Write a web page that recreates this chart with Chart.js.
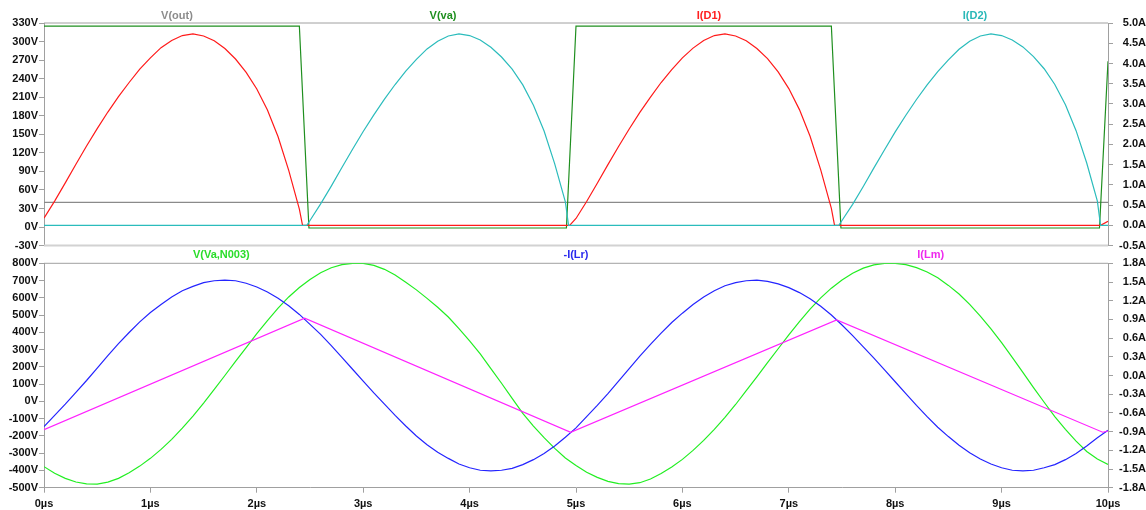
<!DOCTYPE html>
<html>
<head>
<meta charset="utf-8">
<script src="https://cdn.jsdelivr.net/npm/chart.js@4.4.1/dist/chart.umd.min.js"></script>
<style>
  html, body { margin: 0; padding: 0; background: #fff; width: 1146px; height: 510px; overflow: hidden; }
  canvas { position: absolute; left: 0; }
  #topPane { top: 0; }
  #bottomPane { top: 248px; }
</style>
</head>
<body>
<canvas id="topPane" width="1146" height="256"></canvas>
<canvas id="bottomPane" width="1146" height="262"></canvas>
<script>
// ---- transient simulation data, time in microseconds ----
const timeUs = [0,0.1,0.2,0.3,0.4,0.5,0.6,0.7,0.8,0.9,1,1.1,1.2,1.3,1.4,1.5,1.6,1.7,1.8,1.9,2,2.1,2.2,2.3,2.4,2.5,2.6,2.7,2.8,2.9,3,3.1,3.2,3.3,3.4,3.5,3.6,3.7,3.8,3.9,4,4.1,4.2,4.3,4.4,4.5,4.6,4.7,4.8,4.9,5,5.1,5.2,5.3,5.4,5.5,5.6,5.7,5.8,5.9,6,6.1,6.2,6.3,6.4,6.5,6.6,6.7,6.8,6.9,7,7.1,7.2,7.3,7.4,7.5,7.6,7.7,7.8,7.9,8,8.1,8.2,8.3,8.4,8.5,8.6,8.7,8.8,8.9,9,9.1,9.2,9.3,9.4,9.5,9.6,9.7,9.8,9.9,10];

// upper pane
const vOutTime = [0, 10];
const vOutVolts = [40, 40];

const vaTime = [0, 2.40, 2.49, 4.91, 5.0, 7.40, 7.49, 9.92, 10];
const vaVolts = [325, 325, -1.5, -1.5, 325, 325, -1.5, -1.5, 268];

const d1Time = [0,0.1,0.2,0.3,0.4,0.5,0.6,0.7,0.8,0.9,1,1.1,1.2,1.3,1.4,1.5,1.6,1.7,1.8,1.9,2,2.1,2.2,2.3,2.4,2.43,
                4.94,5,5.1,5.2,5.3,5.4,5.5,5.6,5.7,5.8,5.9,6,6.1,6.2,6.3,6.4,6.5,6.6,6.7,6.8,6.9,7,7.1,7.2,7.3,7.4,7.43,
                9.93,10];
const d1Amps = [0.18,0.60,1.05,1.51,1.96,2.39,2.80,3.18,3.53,3.86,4.14,4.39,4.57,4.69,4.73,4.68,4.56,4.37,4.11,3.78,3.37,2.85,2.19,1.36,0.40,0,
                0,0.17,0.59,1.04,1.50,1.95,2.38,2.79,3.17,3.53,3.85,4.14,4.38,4.57,4.69,4.73,4.68,4.56,4.37,4.12,3.79,3.38,2.86,2.20,1.37,0.42,0,
                0,0.10];

const d2Time = [0,2.47,2.5,2.6,2.7,2.8,2.9,3,3.1,3.2,3.3,3.4,3.5,3.6,3.7,3.8,3.9,4,4.1,4.2,4.3,4.4,4.5,4.6,4.7,4.8,4.9,4.93,
                7.47,7.5,7.6,7.7,7.8,7.9,8,8.1,8.2,8.3,8.4,8.5,8.6,8.7,8.8,8.9,9,9.1,9.2,9.3,9.4,9.5,9.6,9.7,9.8,9.9,9.93,10];
const d2Amps = [0,0,0.12,0.53,0.97,1.43,1.88,2.32,2.73,3.12,3.48,3.81,4.10,4.36,4.55,4.68,4.73,4.69,4.58,4.40,4.16,3.86,3.47,2.97,2.33,1.52,0.58,0,
                0,0.12,0.52,0.96,1.42,1.87,2.31,2.72,3.11,3.47,3.80,4.09,4.35,4.55,4.68,4.73,4.69,4.58,4.41,4.17,3.87,3.48,2.98,2.34,1.54,0.60,0,0];

// lower pane (on timeUs grid)
const vaN003Volts = [-378,-416,-446,-467,-478,-479,-468,-446,-413,-375,
                     -330,-278,-220,-155,-85,-10,70,150,232,312,
                     392,468,540,605,660,706,745,774,792,800,
                     800,788,765,732,690,646,597,545,489,422,
                     350,275,190,105,18,-69,-143,-210,-272,-328,
                     -372,
                     -410,-440,-463,-476,-479,-471,-450,-418,-380,
                     -336,-284,-226,-162,-92,-18,62,142,224,305,
                     385,462,535,600,656,703,742,772,791,799,
                     800,792,775,750,716,672,622,562,494,420,
                     340,255,168,80,-5,-88,-162,-230,-290,-334,
                     -365];
const lrNegAmps = [-0.82,-0.64,-0.46,-0.27,-0.08,0.12,0.32,0.51,0.69,0.86,
                   1.01,1.14,1.26,1.36,1.43,1.49,1.52,1.53,1.52,1.48,
                   1.42,1.34,1.24,1.12,0.98,0.82,0.66,0.48,0.29,0.10,
                   -0.09,-0.28,-0.46,-0.64,-0.81,-0.97,-1.11,-1.23,-1.33,-1.42,
                   -1.48,-1.52,-1.53,-1.52,-1.49,-1.43,-1.35,-1.25,-1.13,-0.99,
                   -0.84,
                   -0.66,-0.48,-0.29,-0.09,0.11,0.31,0.50,0.68,0.85,
                   1.00,1.14,1.26,1.36,1.44,1.49,1.52,1.53,1.51,1.47,
                   1.41,1.33,1.23,1.11,0.97,0.81,0.64,0.46,0.28,0.09,
                   -0.10,-0.29,-0.48,-0.66,-0.83,-0.98,-1.12,-1.24,-1.34,-1.42,
                   -1.48,-1.52,-1.53,-1.52,-1.48,-1.43,-1.35,-1.25,-1.13,-1.00,
                   -0.88];
const lmTime = [0, 2.45, 4.95, 7.45, 9.95, 10];
const lmAmps = [-0.87, 0.92, -0.91, 0.89, -0.91, -0.89];

// axis ticks
const topVoltTicks = [-30,0,30,60,90,120,150,180,210,240,270,300,330];
const topAmpTicks = [-0.5,0,0.5,1,1.5,2,2.5,3,3.5,4,4.5,5];
const bottomVoltTicks = [-500,-400,-300,-200,-100,0,100,200,300,400,500,600,700,800];
const bottomAmpTicks = [-1.8,-1.5,-1.2,-0.9,-0.6,-0.3,0,0.3,0.6,0.9,1.2,1.5,1.8];
const timeTicks = [0,1,2,3,4,5,6,7,8,9,10];

// trace names
const topNames = ['V(out)', 'V(va)', 'I(D1)', 'I(D2)'];
const topNameColors = ['#8c8c8c', '#1f8f1f', '#ff2020', '#2ab8b8'];
const bottomNames = ['V(Va,N003)', '-I(Lr)', 'I(Lm)'];
const bottomNameColors = ['#2add2a', '#2a2aee', '#ee2aee'];

// ---- drawing ----
const FONT = { family: '"Liberation Sans", Arial, sans-serif', size: 11, weight: 'bold' };
const AXIS_GRAY = '#a0a0a0';

const pts = (xs, ys) => xs.map((x, i) => ({ x: x, y: ys[i] }));

const paneFrame = {
  id: 'paneFrame',
  beforeDatasetsDraw(chart, args, opts) {
    const { ctx, chartArea: a } = chart;
    ctx.save();
    (opts.lines || []).forEach(l => {
      ctx.strokeStyle = l.color;
      ctx.lineWidth = l.width;
      const y = l.edge === 'top' ? a.top : a.bottom;
      ctx.beginPath();
      ctx.moveTo(a.left, y);
      ctx.lineTo(a.right, y);
      ctx.stroke();
    });
    ctx.restore();
  }
};

const traceNames = {
  id: 'traceNames',
  afterDraw(chart, args, opts) {
    const { ctx, chartArea: a } = chart;
    const n = opts.names.length;
    ctx.save();
    ctx.font = 'bold 11px "Liberation Sans", Arial, sans-serif';
    ctx.textAlign = 'center';
    ctx.textBaseline = 'middle';
    opts.names.forEach((name, i) => {
      ctx.fillStyle = opts.colors[i];
      ctx.fillText(name, a.left + a.width * (i + 0.5) / n, a.top - opts.gap);
    });
    ctx.restore();
  }
};

function yScale(pos, min, max, tickValues, fmt) {
  return {
    type: 'linear', position: pos, min: min, max: max,
    afterBuildTicks: s => { s.ticks = tickValues.map(v => ({ value: v })); },
    afterFit: s => { s.width = pos === 'left' ? 44 : 38; },
    grid: { drawOnChartArea: false, drawTicks: true, tickLength: 5, color: AXIS_GRAY },
    border: { display: true, color: AXIS_GRAY, width: 1 },
    ticks: { font: FONT, color: '#111', padding: 1, crossAlign: pos === 'right' ? 'far' : 'near', callback: fmt }
  };
}
const fmtV = v => v + 'V';
const fmtA = v => v.toFixed(1) + 'A';

function line(label, data, axis, color, order) {
  return { label, data, yAxisID: axis, borderColor: color, backgroundColor: color,
           borderWidth: 1.2, pointRadius: 0, tension: 0, fill: false, order };
}

const common = {
  responsive: false, animation: false, devicePixelRatio: 1,
  events: [],
  plugins: { legend: { display: false }, tooltip: { enabled: false } }
};

new Chart(document.getElementById('topPane'), {
  type: 'line',
  data: {
    datasets: [
      line('V(out)', pts(vOutTime, vOutVolts), 'yV', '#8a8a8a', 4),
      line('V(va)', pts(vaTime, vaVolts), 'yV', '#1f8f1f', 3),
      line('I(D1)', pts(d1Time, d1Amps), 'yA', '#ff1a1a', 2),
      line('I(D2)', pts(d2Time, d2Amps), 'yA', '#2bbcbc', 1)
    ]
  },
  options: Object.assign({}, common, {
    layout: { padding: { top: 23, bottom: 10.4, left: 0, right: 0 } },
    scales: {
      x: { type: 'linear', min: 0, max: 10, display: false },
      yV: yScale('left', -30, 330, topVoltTicks, fmtV),
      yA: yScale('right', -0.5, 5, topAmpTicks, fmtA)
    },
    plugins: Object.assign({}, common.plugins, {
      paneFrame: { lines: [ { edge: 'top', color: AXIS_GRAY, width: 1 }, { edge: 'bottom', color: '#d2d2d2', width: 2 } ] },
      traceNames: { names: topNames, colors: topNameColors, gap: 7.5 }
    })
  }),
  plugins: [paneFrame, traceNames]
});

new Chart(document.getElementById('bottomPane'), {
  type: 'line',
  data: {
    datasets: [
      line('V(Va,N003)', pts(timeUs, vaN003Volts), 'yV', '#22ee22', 3),
      line('-I(Lr)', pts(timeUs, lrNegAmps), 'yA', '#2424ff', 2),
      line('I(Lm)', pts(lmTime, lmAmps), 'yA', '#ff22ff', 1)
    ]
  },
  options: Object.assign({}, common, {
    layout: { padding: { top: 15.3, bottom: 0, left: 0, right: 0 } },
    scales: {
      x: {
        type: 'linear', min: 0, max: 10,
        afterBuildTicks: s => { s.ticks = timeTicks.map(v => ({ value: v })); },
        afterFit: s => { s.height = 22.3; },
        grid: { drawOnChartArea: false, drawTicks: true, tickLength: 5, color: AXIS_GRAY },
        border: { display: true, color: AXIS_GRAY, width: 1 },
        ticks: { font: FONT, color: '#111', padding: 5, maxRotation: 0, autoSkip: false, callback: v => v + 'µs' }
      },
      yV: yScale('left', -500, 800, bottomVoltTicks, fmtV),
      yA: yScale('right', -1.8, 1.8, bottomAmpTicks, fmtA)
    },
    plugins: Object.assign({}, common.plugins, {
      paneFrame: { lines: [ { edge: 'top', color: AXIS_GRAY, width: 1 } ] },
      traceNames: { names: bottomNames, colors: bottomNameColors, gap: 8 }
    })
  }),
  plugins: [paneFrame, traceNames]
});
</script>
</body>
</html>
